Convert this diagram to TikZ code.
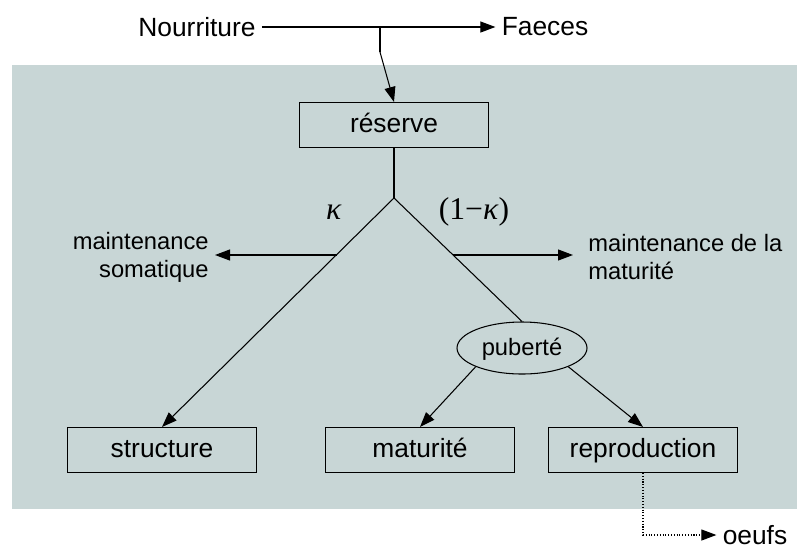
\documentclass[tikz,border=0pt]{standalone}
\usepackage{fontspec}
\setmainfont{Liberation Sans}
\newfontfamily\grecfont{Liberation Serif}
\usetikzlibrary{shapes.geometric}
\usetikzlibrary{arrows.meta}

\definecolor{fond}{RGB}{200,214,214}

\begin{document}
\begin{tikzpicture}[x=0.2mm,y=-0.2mm,line width=0.6pt,
            font=\fontsize{15}{18}\selectfont,
            boite/.style={draw,minimum width=37.8mm,minimum height=9mm,inner sep=0pt,
                text height=11.5pt,text depth=2.5pt},
            grec/.style={font=\grecfont\fontsize{18}{21}\selectfont},
            fleche/.style={-{Triangle[length=3mm,width=2.2mm]}}]
            \useasboundingbox (0,0) rectangle (797,550);
            \fill[fond] (12,65) rectangle (797,509);

            \node (nourriture) at (197,27) {Nourriture};
            \node (faeces) at (545,27) {Faeces};
            \coordinate (j1) at (380,27);
            \coordinate (j2) at (380,52);
            \coordinate (fourche) at (394,198);
            \coordinate (g) at (336.5,255);
            \coordinate (d) at (453,255);

            \node[boite] (reserve) at (394,125) {réserve};
            \node[boite] (structure) at (162,450) {structure};
            \node[boite] (maturite) at (420,450) {maturité};
            \node[boite] (reproduction) at (643,450) {reproduction};
            \node[draw,ellipse,minimum width=26mm,minimum height=10.4mm,inner sep=0pt,
                text height=10.5pt,text depth=2.5pt,
                font=\fontsize{13.5}{16}\selectfont] (puberte) at (522,348) {puberté};

            \node[anchor=east,align=right,font=\fontsize{13.5}{16}\selectfont]
                (somatique) at (215,257) {maintenance\\somatique};
            \node[anchor=west,align=left,font=\fontsize{13.5}{16}\selectfont]
                (entretien) at (582,257) {maintenance de la\\maturité};
            \node[grec] (kappa) at (334,212) {\textit{κ}};
            \node[grec] (unmoins) at (474,212) {(1−\textit{κ})};
            \node (oeufs) at (755,535) {oeufs};

            \draw[fleche] (nourriture) -- (faeces);
            \draw (j1) -- (j2);
            \draw[fleche] (j2) -- (reserve.north);
            \draw (reserve.south) -- (fourche);
            \draw[fleche] (fourche) -- (structure.north);
            \draw (fourche) -- (puberte.north);
            \draw[fleche] (g) -- (g -| somatique.east);
            \draw[fleche,shorten >=1.8mm] (d) -- (d -| entretien.west);
            \draw[fleche] (puberte.south west) -- (maturite.north);
            \draw[fleche] (puberte.south east) -- (reproduction.north);
            \draw[fleche,densely dotted] (reproduction.south) |- (oeufs);
        \end{tikzpicture}
\end{document}
